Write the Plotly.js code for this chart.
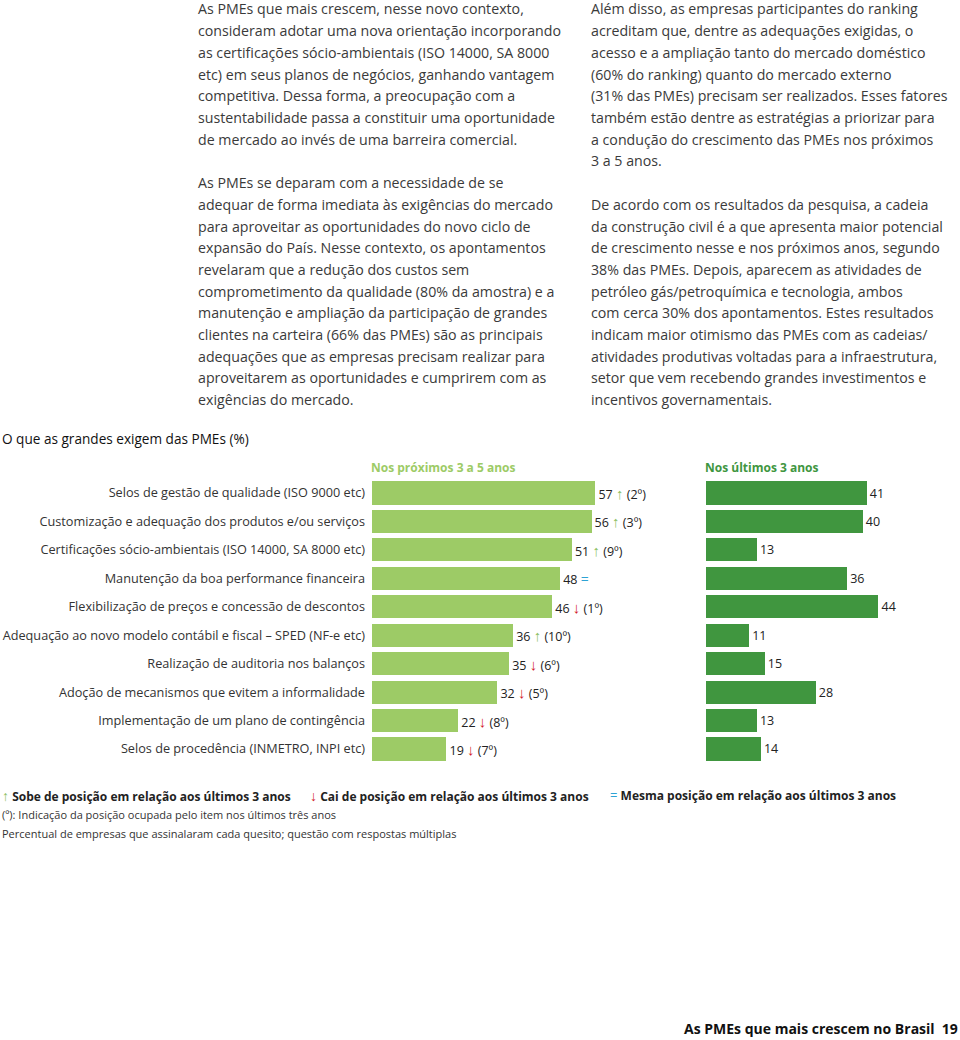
<!DOCTYPE html>
<html>
<head>
<meta charset="utf-8">
<script src="https://cdn.plot.ly/plotly-3.0.1.min.js"></script>
<style>
html,body{margin:0;padding:0;background:#fff;}
#chart{width:960px;height:1040px;}
</style>
</head>
<body>
<div id="chart"></div>
<script>
// ---- data ----
const categories = [
  "Selos de gestão de qualidade (ISO 9000 etc)",
  "Customização e adequação dos produtos e/ou serviços",
  "Certificações sócio-ambientais (ISO 14000, SA 8000 etc)",
  "Manutenção da boa performance financeira",
  "Flexibilização de preços e concessão de descontos",
  "Adequação ao novo modelo contábil e fiscal – SPED (NF-e etc)",
  "Realização de auditoria nos balanços",
  "Adoção de mecanismos que evitem a informalidade",
  "Implementação de um plano de contingência",
  "Selos de procedência (INMETRO, INPI etc)"
];
const proximos = [57, 56, 51, 48, 46, 36, 35, 32, 22, 19];
const ultimos  = [41, 40, 13, 36, 44, 11, 15, 28, 13, 14];
const trend    = ["up","up","up","same","down","up","down","down","down","down"];
const prevPos  = [2, 3, 9, null, 1, 10, 6, 5, 8, 7];

const col1 = [
  "As PMEs que mais crescem, nesse novo contexto,",
  "consideram adotar uma nova orientação incorporando",
  "as certificações sócio-ambientais (ISO 14000, SA 8000",
  "etc) em seus planos de negócios, ganhando vantagem",
  "competitiva. Dessa forma, a preocupação com a",
  "sustentabilidade passa a constituir uma oportunidade",
  "de mercado ao invés de uma barreira comercial.",
  "",
  "As PMEs se deparam com a necessidade de se",
  "adequar de forma imediata às exigências do mercado",
  "para aproveitar as oportunidades do novo ciclo de",
  "expansão do País. Nesse contexto, os apontamentos",
  "revelaram que a redução dos custos sem",
  "comprometimento da qualidade (80% da amostra) e a",
  "manutenção e ampliação da participação de grandes",
  "clientes na carteira (66% das PMEs) são as principais",
  "adequações que as empresas precisam realizar para",
  "aproveitarem as oportunidades e cumprirem com as",
  "exigências do mercado."
];
const col2 = [
  "Além disso, as empresas participantes do ranking",
  "acreditam que, dentre as adequações exigidas, o",
  "acesso e a ampliação tanto do mercado doméstico",
  "(60% do ranking) quanto do mercado externo",
  "(31% das PMEs) precisam ser realizados. Esses fatores",
  "também estão dentre as estratégias a priorizar para",
  "a condução do crescimento das PMEs nos próximos",
  "3 a 5 anos.",
  "",
  "De acordo com os resultados da pesquisa, a cadeia",
  "da construção civil é a que apresenta maior potencial",
  "de crescimento nesse e nos próximos anos, segundo",
  "38% das PMEs. Depois, aparecem as atividades de",
  "petróleo gás/petroquímica e tecnologia, ambos",
  "com cerca 30% dos apontamentos. Estes resultados",
  "indicam maior otimismo das PMEs com as cadeias/",
  "atividades produtivas voltadas para a infraestrutura,",
  "setor que vem recebendo grandes investimentos e",
  "incentivos governamentais."
];

// ---- styling ----
const W = 960, H = 1040;
const FONT = "Open Sans, Noto Sans, sans-serif";
const TXT = "#333333";
const LIGHT = "#9dcb66";
const DARK = "#40963f";
const UP = "#8cc063", DOWN = "#d2232a", SAME = "#2ea3d4";
const px2x = p => p / W;
const px2y = p => 1 - p / H;

const arrowOf = t => t === "up" ? `<span style="color:${UP};font-size:15px">↑</span>` :
                     t === "down" ? `<span style="color:${DOWN};font-size:15px"><b>↓</b></span>` :
                     `<span style="color:${SAME};font-size:14px">=</span>`;
const leftText = proximos.map((v, i) =>
  `${v} ${arrowOf(trend[i])}` + (prevPos[i] !== null ? ` (${prevPos[i]}º)` : ""));

const yDomain = [px2y(763.2), px2y(478.8)];
const scale = 3.92;

const traces = [
  {
    type: "bar", orientation: "h",
    y: categories, x: proximos,
    xaxis: "x", yaxis: "y",
    marker: {color: LIGHT},
    width: 0.81,
    text: leftText, textposition: "outside", cliponaxis: false,
    textfont: {family: FONT, size: 12.5, color: "#222"},
    hoverinfo: "skip"
  },
  {
    type: "bar", orientation: "h",
    y: categories, x: ultimos,
    xaxis: "x2", yaxis: "y2",
    marker: {color: DARK},
    width: 0.81,
    text: ultimos.map(String), textposition: "outside", cliponaxis: false,
    textfont: {family: FONT, size: 12.5, color: "#222"},
    hoverinfo: "skip"
  }
];

const annotations = [];
const lineH = 21.7;
col1.forEach((t, i) => {
  if (!t) return;
  annotations.push({xref: "paper", yref: "paper", x: px2x(196), y: px2y(9 + i * lineH),
    xanchor: "left", yanchor: "middle", showarrow: false, text: t,
    font: {family: FONT, size: 14.2, color: "#3a3a3a"}});
});
col2.forEach((t, i) => {
  if (!t) return;
  annotations.push({xref: "paper", yref: "paper", x: px2x(589), y: px2y(9 + i * lineH),
    xanchor: "left", yanchor: "middle", showarrow: false, text: t,
    font: {family: FONT, size: 14.2, color: "#3a3a3a"}});
});

function ann(x, y, text, size, color, extra) {
  annotations.push(Object.assign({xref: "paper", yref: "paper", x: px2x(x), y: px2y(y),
    xanchor: "left", yanchor: "middle", showarrow: false, text: text,
    font: {family: FONT, size: size, color: color}}, extra || {}));
}
ann(0, 438, "O que as grandes exigem das PMEs (%)", 13.6, "#111");
ann(369, 468, "<b>Nos próximos 3 a 5 anos</b>", 12, LIGHT);
ann(703, 468, "<b>Nos últimos 3 anos</b>", 12, DARK);
ann(0, 795, `<span style="color:${UP};font-size:14px">↑</span> <b>Sobe de posição em relação aos últimos 3 anos</b>`, 12, "#222");
ann(308, 795, `<span style="color:${DOWN};font-size:14px">↓</span> <b>Cai de posição em relação aos últimos 3 anos</b>`, 12, "#222");
ann(608, 795, `<span style="color:${SAME};font-size:13px">=</span> <b>Mesma posição em relação aos últimos 3 anos</b>`, 12, "#222");
ann(0, 814, "(º): Indicação da posição ocupada pelo item nos últimos três anos", 11, "#333");
ann(0, 833, "Percentual de empresas que assinalaram cada quesito; questão com respostas múltiplas", 11, "#333");
ann(960, 1028, "<b>As PMEs que mais crescem no Brasil  19</b>", 14, "#111", {xanchor: "right"});

const layout = {
  width: W, height: H,
  margin: {l: 0, r: 0, t: 0, b: 0},
  paper_bgcolor: "#fff", plot_bgcolor: "rgba(0,0,0,0)",
  showlegend: false,
  bargap: 0,
  xaxis: {domain: [px2x(372), px2x(660)], range: [0, 288 / scale],
    showgrid: false, zeroline: false, showticklabels: false, showline: false, fixedrange: true},
  yaxis: {domain: yDomain, anchor: "x", autorange: "reversed", type: "category",
    showgrid: false, zeroline: false, showline: false, ticks: "",
    ticklabelstandoff: 6,
    tickfont: {family: FONT, size: 12.7, color: TXT}},
  xaxis2: {domain: [px2x(706), 1], range: [0, 254 / scale], anchor: "y2",
    showgrid: false, zeroline: false, showticklabels: false, showline: false},
  yaxis2: {domain: yDomain, anchor: "x2", autorange: "reversed", type: "category",
    showgrid: false, zeroline: false, showline: false, showticklabels: false, ticks: ""},
  annotations: annotations,
  font: {family: FONT}
};

Plotly.newPlot("chart", traces, layout, {displayModeBar: false, staticPlot: true});
</script>
</body>
</html>
